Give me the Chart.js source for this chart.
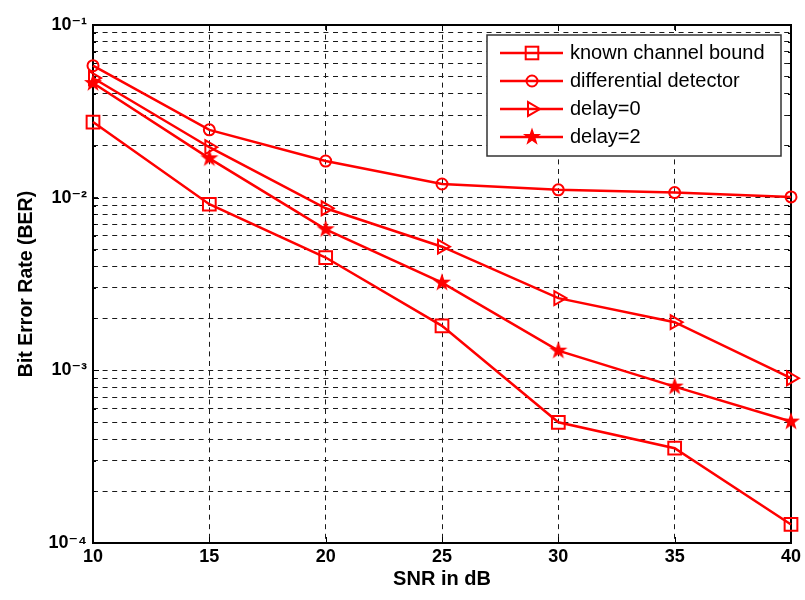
<!DOCTYPE html>
<html>
<head>
<meta charset="utf-8">
<style>
  html, body { margin: 0; padding: 0; background: #ffffff; }
  #wrap { width: 805px; height: 600px; }
</style>
<script src="https://cdn.jsdelivr.net/npm/chart.js@4/dist/chart.umd.min.js"></script>
</head>
<body>
<div id="wrap"><canvas id="c" width="805" height="600"></canvas></div>
<script>
// ---------------- data ----------------
const snrValues = [10, 15, 20, 25, 30, 35, 40];
const knownChannelBound    = [0.0274, 0.00916, 0.00450, 0.00181, 0.000500, 0.000354, 0.000128];
const differentialDetector = [0.0581, 0.0247, 0.0163, 0.0120, 0.0111, 0.0107, 0.0101];
const delay0               = [0.0493, 0.0196, 0.00868, 0.00520, 0.00262, 0.00190, 0.000900];
const delay2               = [0.0461, 0.0169, 0.00656, 0.00322, 0.00130, 0.000805, 0.000505];
const seriesLabels = ['known channel bound', 'differential detector', 'delay=0', 'delay=2'];
const xTickValues = [10, 15, 20, 25, 30, 35, 40];
const yDecadeExponents = [-4, -3, -2, -1];
const yTickLabels = ['10\u207B\u2074', '10\u207B\u00B3', '10\u207B\u00B2', '10\u207B\u00B9'];
const xTitle = 'SNR in dB';
const yTitle = 'Bit Error Rate (BER)';

// ---------------- styling helpers ----------------
const RED = '#ff0000';
const BOLD_FONT = "'Liberation Sans', Arial, 'DejaVu Sans', sans-serif";

function pentagram(g, cx, cy, R, r) {
  g.beginPath();
  for (let i = 0; i < 10; i++) {
    const rad = (i % 2 === 0) ? R : r;
    const a = -Math.PI / 2 + i * Math.PI / 5;
    const px = cx + rad * Math.cos(a), py = cy + rad * Math.sin(a);
    if (i === 0) g.moveTo(px, py); else g.lineTo(px, py);
  }
  g.closePath();
  g.fill();
}
function drawMarker(g, kind, cx, cy) {
  g.lineWidth = 2; g.strokeStyle = RED; g.fillStyle = RED;
  if (kind === 'square') {
    g.strokeRect(cx - 6.3, cy - 6.3, 12.6, 12.6);
  } else if (kind === 'circle') {
    g.beginPath(); g.arc(cx, cy, 5.5, 0, Math.PI * 2); g.stroke();
  } else if (kind === 'triangle') {
    g.beginPath(); g.moveTo(cx + 8, cy); g.lineTo(cx - 4, cy - 6.9); g.lineTo(cx - 4, cy + 6.9); g.closePath(); g.stroke();
  } else if (kind === 'star') {
    pentagram(g, cx, cy, 9.5, 3.8);
  }
}
function makeIcon(kind, w, h, withLine) {
  const c = document.createElement('canvas');
  c.width = w; c.height = h;
  const g = c.getContext('2d');
  if (withLine) {
    g.strokeStyle = RED; g.lineWidth = 2.5;
    g.beginPath(); g.moveTo(2, h / 2); g.lineTo(w - 3, h / 2); g.stroke();
  }
  drawMarker(g, kind, w / 2, h / 2);
  return c;
}
const markerKinds = ['square', 'circle', 'triangle', 'star'];
const legendIcons = markerKinds.map(k => makeIcon(k, 68, 22, true));
const starPoint = makeIcon('star', 22, 22, false);

function isDecade(v) {
  const e = Math.log10(v);
  return Math.abs(e - Math.round(e)) < 1e-6;
}
const yTickValues = [];
yDecadeExponents.forEach((e, i) => {
  const last = i === yDecadeExponents.length - 1;
  const top = last ? 1 : 9;
  for (let m = 1; m <= top; m++) yTickValues.push(parseFloat((m * Math.pow(10, e)).toPrecision(6)));
});

// ---------------- plugins ----------------
const framePlugin = {
  id: 'frame',
  beforeDatasetsDraw(chart) {
    const { ctx, chartArea: a, scales } = chart;
    const x = scales.x, y = scales.y;
    ctx.save();
    ctx.strokeStyle = '#000';
    ctx.lineWidth = 1;
    ctx.beginPath();
    y.ticks.forEach(t => {
      const py = Math.round(y.getPixelForValue(t.value)) + 0.5;
      const L = isDecade(t.value) ? 6 : 3;
      ctx.moveTo(a.left, py); ctx.lineTo(a.left + L, py);
      ctx.moveTo(a.right, py); ctx.lineTo(a.right - L, py);
    });
    x.ticks.forEach(t => {
      const px = Math.round(x.getPixelForValue(t.value)) + 0.5;
      ctx.moveTo(px, a.bottom); ctx.lineTo(px, a.bottom - 6);
      ctx.moveTo(px, a.top); ctx.lineTo(px, a.top + 6);
    });
    ctx.stroke();
    ctx.lineWidth = 2;
    ctx.strokeRect(a.left, a.top, a.right - a.left, a.bottom - a.top);
    ctx.restore();
  }
};

const legendBoxPlugin = {
  id: 'legendBox',
  beforeLayout(chart) {
    const lg = chart.legend;
    if (!lg || lg._patched) return;
    lg._patched = true;
    lg._layers = () => [{
      z: 1,
      draw: () => {
        const ctx = chart.ctx;
        const a = chart.chartArea;
        const boxRight = a.right - 10, boxTop = a.top + 10, boxW = 294, boxH = 121;
        const boxLeft = boxRight - boxW;
        ctx.save();
        ctx.fillStyle = '#ffffff';
        ctx.fillRect(boxLeft, boxTop, boxW, boxH);
        ctx.lineWidth = 1.5;
        ctx.strokeStyle = '#333333';
        ctx.strokeRect(boxLeft, boxTop, boxW, boxH);
        ctx.restore();
        lg.left = boxLeft + 9;
        lg.top = boxTop;
        lg.right = boxRight + 8;
        lg.bottom = boxTop + 220;
        lg.width = lg.right - lg.left;
        lg.height = lg.bottom - lg.top;
        lg.draw();
      }
    }];
  }
};

// ---------------- chart ----------------
const datasetStyles = [
  { pointStyle: 'rect', pointRadius: 9, pointRotation: 0 },
  { pointStyle: 'circle', pointRadius: 5.5, pointRotation: 0 },
  { pointStyle: 'triangle', pointRadius: 8, pointRotation: 90 },
  { pointStyle: starPoint, pointRadius: 9, pointRotation: 0 }
];
const seriesValues = [knownChannelBound, differentialDetector, delay0, delay2];

const datasets = seriesValues.map((vals, i) => Object.assign({
  label: seriesLabels[i],
  data: snrValues.map((s, j) => ({ x: s, y: vals[j] })),
  borderColor: RED,
  backgroundColor: RED,
  borderWidth: 2.5,
  pointBorderColor: RED,
  pointBackgroundColor: 'rgba(0,0,0,0)',
  pointBorderWidth: 2,
  pointHoverRadius: 9,
  tension: 0,
  clip: false
}, datasetStyles[i]));

new Chart(document.getElementById('c'), {
  type: 'line',
  data: { datasets },
  plugins: [framePlugin, legendBoxPlugin],
  options: {
    responsive: false,
    animation: false,
    devicePixelRatio: 1,
    layout: { padding: { top: 25, right: 14, left: 0, bottom: 0 } },
    plugins: {
      tooltip: { enabled: false },
      legend: {
        display: true,
        position: 'chartArea',
        align: 'start',
        labels: {
          usePointStyle: true,
          pointStyleWidth: 56,
          padding: 8,
          color: '#000',
          font: { family: "'Liberation Sans', Arial, sans-serif", size: 20, weight: 'normal' },
          generateLabels: (chart) => chart.data.datasets.map((ds, i) => ({
            text: ds.label,
            pointStyle: legendIcons[i],
            fillStyle: RED,
            strokeStyle: RED,
            lineWidth: 1,
            hidden: false,
            datasetIndex: i,
            fontColor: '#000'
          }))
        }
      }
    },
    scales: {
      x: {
        type: 'linear',
        min: 10,
        max: 40,
        afterBuildTicks: (s) => { s.ticks = xTickValues.map(v => ({ value: v })); },
        ticks: {
          autoSkip: false, maxRotation: 0, padding: 3, color: '#000',
          font: { family: BOLD_FONT, size: 18, weight: 'bold' },
          callback: (v) => String(v)
        },
        grid: { color: '#1a1a1a', lineWidth: 1, drawTicks: false },
        border: { display: false, dash: [5, 4.6] },
        title: {
          display: true, text: xTitle, color: '#000',
          font: { family: BOLD_FONT, size: 20, weight: 'bold' },
          padding: { top: 0, bottom: 9 }
        },
        afterFit: (s) => { s.height = 57; }
      },
      y: {
        type: 'logarithmic',
        min: 1e-4,
        max: 1e-1,
        afterBuildTicks: (s) => { s.ticks = yTickValues.map(v => ({ value: v })); },
        ticks: {
          autoSkip: false, padding: 6, color: '#000',
          font: { family: BOLD_FONT, size: 18, weight: 'bold' },
          callback: (v) => {
            if (!isDecade(v)) return '';
            const e = Math.round(Math.log10(v));
            const idx = yDecadeExponents.indexOf(e);
            return idx >= 0 ? yTickLabels[idx] : '';
          }
        },
        grid: { color: '#1a1a1a', lineWidth: 1, drawTicks: false },
        border: { display: false, dash: [5, 4.6] },
        title: {
          display: true, text: yTitle, color: '#000',
          font: { family: BOLD_FONT, size: 19.5, weight: 'bold' },
          padding: { top: 15, bottom: 0 }
        },
        afterFit: (s) => { s.width = 93; }
      }
    }
  }
});
</script>
</body>
</html>
